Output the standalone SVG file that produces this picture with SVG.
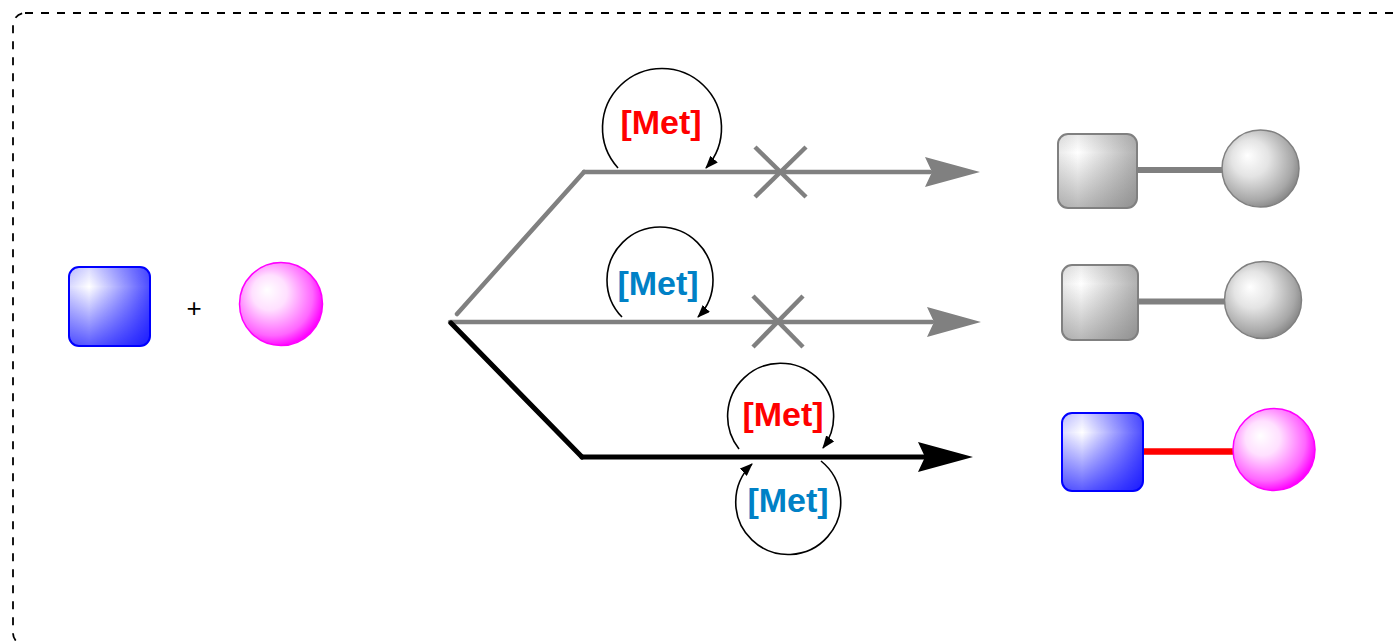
<svg xmlns="http://www.w3.org/2000/svg" width="1397" height="642" viewBox="0 0 1397 642">
<style>
.lbl{font-family:"Liberation Sans",Arial,sans-serif;font-weight:bold;font-size:34px;text-anchor:middle}
.red{fill:#ff0000}
.blue{fill:#0081c6}
.loop{fill:none;stroke:#000;stroke-width:1.6;marker-end:url(#ah)}
.gline{stroke:#808080;stroke-width:4.5;stroke-linecap:round;fill:none}
.bline{stroke:#000;stroke-width:5;stroke-linecap:round;fill:none}
.xmark{stroke:#808080;stroke-width:4.5}
</style>
<defs>
<marker id="ah" markerWidth="13" markerHeight="10" refX="12" refY="5" orient="auto" markerUnits="userSpaceOnUse">
<path d="M0,0 L13,5 L0,10 z" fill="#000"/>
</marker>
<linearGradient id="hxB" x1="0" y1="0" x2="1" y2="0">
<stop offset="0" stop-color="#0000ff" stop-opacity="0.15"/>
<stop offset="0.25" stop-color="#0000ff" stop-opacity="0"/>
<stop offset="1" stop-color="#0000ff" stop-opacity="0.7"/>
</linearGradient>
<linearGradient id="vyB" x1="0" y1="0" x2="0" y2="1">
<stop offset="0" stop-color="#0000ff" stop-opacity="0.15"/>
<stop offset="0.25" stop-color="#0000ff" stop-opacity="0"/>
<stop offset="1" stop-color="#0000ff" stop-opacity="0.65"/>
</linearGradient>
<linearGradient id="hxG" x1="0" y1="0" x2="1" y2="0">
<stop offset="0" stop-color="#707070" stop-opacity="0.15"/>
<stop offset="0.25" stop-color="#707070" stop-opacity="0"/>
<stop offset="1" stop-color="#707070" stop-opacity="0.55"/>
</linearGradient>
<linearGradient id="vyG" x1="0" y1="0" x2="0" y2="1">
<stop offset="0" stop-color="#707070" stop-opacity="0.15"/>
<stop offset="0.25" stop-color="#707070" stop-opacity="0"/>
<stop offset="1" stop-color="#707070" stop-opacity="0.5"/>
</linearGradient>
<radialGradient id="pinkS" cx="0.42" cy="0.42" r="0.6" fx="0.33" fy="0.33">
<stop offset="0" stop-color="#ffffff"/>
<stop offset="0.35" stop-color="#ffe0ff"/>
<stop offset="0.8" stop-color="#ff66ff"/>
<stop offset="1" stop-color="#ff00ff"/>
</radialGradient>
<radialGradient id="grayS" cx="0.42" cy="0.42" r="0.6" fx="0.33" fy="0.33">
<stop offset="0" stop-color="#ffffff"/>
<stop offset="0.4" stop-color="#e4e4e4"/>
<stop offset="0.85" stop-color="#a8a8a8"/>
<stop offset="1" stop-color="#8a8a8a"/>
</radialGradient>
</defs>

<rect x="13" y="13" width="1400" height="632" rx="12" ry="12" fill="none" stroke="#000" stroke-width="1.8" stroke-dasharray="8 8"/>

<g id="reactant-square">
<rect x="69" y="267" width="81" height="79" rx="10" fill="#fff"/>
<rect x="69" y="267" width="81" height="79" rx="10" fill="url(#hxB)"/>
<rect x="69" y="267" width="81" height="79" rx="10" fill="url(#vyB)"/>
<rect x="69" y="267" width="81" height="79" rx="10" fill="none" stroke="#0000ff" stroke-width="2"/>
</g>
<g id="plus">
<text x="194" y="317" font-family="Liberation Sans, Arial, sans-serif" font-size="26" text-anchor="middle" fill="#000">+</text>
</g>
<g id="reactant-sphere">
<circle cx="281" cy="304" r="41.5" fill="url(#pinkS)" stroke="#ff00ff" stroke-width="1.5"/>
</g>

<g id="connectors">
<line class="gline" x1="457" y1="314" x2="584" y2="172"/>
<line class="gline" x1="584" y1="172" x2="930" y2="172"/>
<polygon points="980,172 925,157 932,172 925,187" fill="#808080"/>
<line class="xmark" x1="755" y1="147" x2="806" y2="197"/>
<line class="xmark" x1="806" y1="147" x2="755" y2="197"/>

<line class="gline" x1="450" y1="322" x2="932" y2="322"/>
<polygon points="981,322 927,307 934,322 927,337" fill="#808080"/>
<line class="xmark" x1="753" y1="296" x2="803" y2="347"/>
<line class="xmark" x1="803" y1="296" x2="753" y2="347"/>

<line class="bline" x1="451" y1="323" x2="582" y2="457"/>
<line class="bline" x1="582" y1="457" x2="925" y2="457"/>
<polygon points="973,457 918,442 925,457 918,472" fill="#000"/>

<path class="loop" d="M618,168 A59.5,59.5 0 1 1 706,168"/>
<path class="loop" d="M622,317 A53,53 0 1 1 698,317"/>
<path class="loop" d="M739,449 A53,53 0 1 1 823,448"/>
<path class="loop" d="M821,461 A52.5,52.5 0 1 1 752,464"/>
</g>

<g id="labels">
<text class="lbl red" x="661" y="134">[Met]</text>
<text class="lbl blue" x="658" y="295">[Met]</text>
<text class="lbl red" x="783" y="426">[Met]</text>
<text class="lbl blue" x="788" y="512">[Met]</text>
</g>

<g id="product-1">
<line x1="1137" y1="170" x2="1222" y2="170" stroke="#808080" stroke-width="6"/>
<rect x="1058" y="134" width="79" height="74" rx="10" fill="#fff"/>
<rect x="1058" y="134" width="79" height="74" rx="10" fill="url(#hxG)"/>
<rect x="1058" y="134" width="79" height="74" rx="10" fill="url(#vyG)"/>
<rect x="1058" y="134" width="79" height="74" rx="10" fill="none" stroke="#808080" stroke-width="2"/>
<circle cx="1260.5" cy="168.5" r="38.5" fill="url(#grayS)" stroke="#808080" stroke-width="1.5"/>
</g>

<g id="product-2">
<line x1="1138" y1="301.5" x2="1225" y2="301.5" stroke="#808080" stroke-width="6"/>
<rect x="1062" y="265" width="76" height="75" rx="10" fill="#fff"/>
<rect x="1062" y="265" width="76" height="75" rx="10" fill="url(#hxG)"/>
<rect x="1062" y="265" width="76" height="75" rx="10" fill="url(#vyG)"/>
<rect x="1062" y="265" width="76" height="75" rx="10" fill="none" stroke="#808080" stroke-width="2"/>
<circle cx="1263" cy="300" r="38.5" fill="url(#grayS)" stroke="#808080" stroke-width="1.5"/>
</g>

<g id="product-3">
<line x1="1143" y1="451.5" x2="1234" y2="451.5" stroke="#ff0000" stroke-width="6.5"/>
<rect x="1062" y="413" width="81" height="78" rx="10" fill="#fff"/>
<rect x="1062" y="413" width="81" height="78" rx="10" fill="url(#hxB)"/>
<rect x="1062" y="413" width="81" height="78" rx="10" fill="url(#vyB)"/>
<rect x="1062" y="413" width="81" height="78" rx="10" fill="none" stroke="#0000ff" stroke-width="2"/>
<circle cx="1274" cy="449.5" r="41" fill="url(#pinkS)" stroke="#ff00ff" stroke-width="1.5"/>
</g>
</svg>
